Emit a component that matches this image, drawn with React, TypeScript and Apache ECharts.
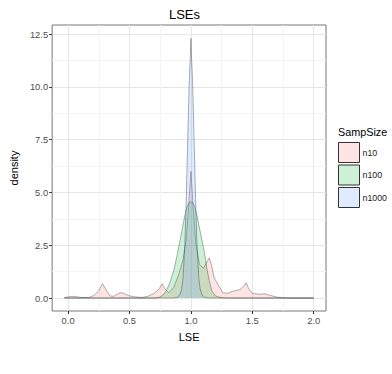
import React, { useEffect, useRef } from 'react';
import * as echarts from 'echarts';

const chartTitle = 'LSEs';
const xName = 'LSE';
const yName = 'density';
const legendTitle = 'SampSize';

const xTicks = [0, 0.5, 1, 1.5, 2];
const xMinor = [0.25, 0.75, 1.25, 1.75];
const yTicks = [0, 2.5, 5, 7.5, 10, 12.5];
const yMinor = [1.25, 3.75, 6.25, 8.75, 11.25];

const groups = ['n10', 'n100', 'n1000'];

const densN10: number[][] = [
  [-0.03, 0.02], [0.0, 0.05], [0.04, 0.08], [0.08, 0.05], [0.12, 0.02], [0.17, 0.03],
  [0.21, 0.12], [0.25, 0.35], [0.28, 0.68], [0.31, 0.38], [0.34, 0.1], [0.37, 0.08],
  [0.4, 0.18], [0.43, 0.26], [0.46, 0.2], [0.5, 0.1], [0.55, 0.05], [0.6, 0.03],
  [0.65, 0.08], [0.7, 0.22], [0.74, 0.42], [0.765, 0.68], [0.79, 0.42], [0.82, 0.25],
  [0.86, 0.5], [0.9, 1.1], [0.935, 1.8], [0.96, 2.7], [0.98, 4.2], [1.0, 6.0],
  [1.02, 4.2], [1.04, 2.6], [1.07, 1.6], [1.1, 1.4], [1.13, 1.7], [1.15, 1.9],
  [1.17, 1.5], [1.19, 0.95], [1.225, 0.6], [1.26, 0.25], [1.3, 0.22], [1.34, 0.32],
  [1.4, 0.4], [1.43, 0.55], [1.45, 0.72], [1.47, 0.45], [1.5, 0.22], [1.55, 0.18],
  [1.6, 0.2], [1.65, 0.12], [1.7, 0.04], [1.75, 0.01], [1.8, 0], [2.0, 0],
];

const densN100: number[][] = [
  [-0.03, 0], [0.7, 0], [0.74, 0.03], [0.77, 0.12], [0.8, 0.35], [0.83, 0.75],
  [0.86, 1.3], [0.89, 2.1], [0.92, 3.0], [0.95, 3.9], [0.97, 4.35], [0.99, 4.55],
  [1.01, 4.55], [1.03, 4.35], [1.05, 3.9], [1.07, 3.3], [1.09, 2.75], [1.11, 2.15],
  [1.13, 1.4], [1.15, 0.8], [1.17, 0.35], [1.2, 0.1], [1.24, 0.02], [1.3, 0], [2.0, 0],
];

const densN1000: number[][] = [
  [-0.03, 0], [0.86, 0], [0.89, 0.04], [0.91, 0.15], [0.925, 0.45], [0.935, 0.9],
  [0.94, 1.4], [0.95, 2.5], [0.955, 3.3], [0.96, 4.3], [0.965, 5.4], [0.97, 6.6],
  [0.975, 7.7], [0.98, 8.9], [0.985, 10.0], [0.99, 10.8], [0.995, 11.4], [1.0, 12.3],
  [1.005, 11.4], [1.01, 10.8], [1.015, 10.0], [1.02, 8.9], [1.025, 7.7], [1.03, 6.6],
  [1.035, 5.4], [1.04, 4.3], [1.045, 3.3], [1.05, 2.5], [1.06, 1.4], [1.065, 0.9],
  [1.075, 0.45], [1.09, 0.15], [1.11, 0.04], [1.14, 0], [2.0, 0],
];

const seriesData = [densN10, densN100, densN1000];
const fills = ['rgba(248,118,109,0.2)', 'rgba(0,186,56,0.2)', 'rgba(97,156,255,0.2)'];

const FONT = '"Liberation Sans", Arial, Helvetica, sans-serif';

export default function App() {
  const ref = useRef<HTMLDivElement>(null);
  useEffect(() => {
    if (!ref.current) return;
    const chart = echarts.init(ref.current, undefined, { renderer: 'svg' });
    const xMin = -0.13, xMax = 2.1, yMin = -0.615, yMax = 12.93;
    const fmt = (v: number) => v.toFixed(1);
    const option: any = {
      animation: false,
      backgroundColor: '#ffffff',
      grid: { left: 43, top: 25, width: 283, height: 286, show: true, borderColor: '#777777', borderWidth: 1, backgroundColor: '#ffffff' },
      xAxis: [
        {
          type: 'value', min: xMin, max: xMax, gridIndex: 0,
          name: xName, nameLocation: 'middle', nameGap: 20,
          nameTextStyle: { fontSize: 11, color: '#000', fontFamily: FONT },
          axisLine: { show: false, onZero: false },
          axisTick: { show: true, length: 3, customValues: xTicks, lineStyle: { color: '#333' } },
          axisLabel: { customValues: xTicks, formatter: fmt, fontSize: 9.4, color: '#4d4d4d', fontFamily: FONT, margin: 5 },
          splitLine: { show: true, lineStyle: { color: '#e6e6e6', width: 1 } },
        },
        {
          type: 'value', min: xMin, max: xMax, gridIndex: 0, position: 'bottom',
          axisLine: { show: false, onZero: false },
          axisTick: { show: false, customValues: xMinor },
          axisLabel: { show: false, customValues: xMinor },
          splitLine: { show: true, lineStyle: { color: '#f4f4f4', width: 1 } },
        },
      ],
      yAxis: [
        {
          type: 'value', min: yMin, max: yMax, gridIndex: 0,
          name: yName, nameLocation: 'middle', nameGap: 32, nameRotate: 90,
          nameTextStyle: { fontSize: 11, color: '#000', fontFamily: FONT },
          axisLine: { show: false, onZero: false },
          axisTick: { show: true, length: 3, customValues: yTicks, lineStyle: { color: '#333' } },
          axisLabel: { customValues: yTicks, formatter: fmt, fontSize: 9.4, color: '#4d4d4d', fontFamily: FONT, margin: 4 },
          splitLine: { show: true, lineStyle: { color: '#e6e6e6', width: 1 } },
        },
        {
          type: 'value', min: yMin, max: yMax, gridIndex: 0, position: 'left',
          axisLine: { show: false, onZero: false },
          axisTick: { show: false, customValues: yMinor },
          axisLabel: { show: false, customValues: yMinor },
          splitLine: { show: true, lineStyle: { color: '#f4f4f4', width: 1 } },
        },
      ],
      legend: {
        orient: 'vertical', left: 338, top: 142, padding: 0, itemWidth: 21, itemHeight: 20, itemGap: 1.5,
        icon: 'rect', selectedMode: false,
        textStyle: { fontSize: 8.8, color: '#1a1a1a', fontFamily: FONT, padding: [0, 0, 0, -2] },
        data: groups.map((g, i) => ({ name: g, icon: 'rect', itemStyle: { color: fills[i], borderColor: '#333', borderWidth: 1 } })),
      },
      graphic: [
        { type: 'text', x: 184.5, y: 14, style: { text: chartTitle, fontSize: 13, fill: '#000', fontFamily: FONT, textAlign: 'center', textVerticalAlign: 'middle' } },
        { type: 'text', x: 338, y: 132, style: { text: legendTitle, fontSize: 10.8, fill: '#000', fontFamily: FONT, textAlign: 'left', textVerticalAlign: 'middle' } },
      ],
      series: groups.map((g, i) => ({
        name: g,
        type: 'line',
        xAxisIndex: 0,
        yAxisIndex: 0,
        data: seriesData[i],
        showSymbol: false,
        symbol: 'none',
        smooth: false,
        color: fills[i],
        lineStyle: { color: 'rgba(0,0,0,0.3)', width: 1 },
        areaStyle: { color: fills[i], opacity: 1, origin: 'auto' },
        z: 3 + i,
      })),
    };
    chart.setOption(option);
    return () => chart.dispose();
  }, []);
  return <div ref={ref} style={{ position: 'fixed', left: 0, top: 0, width: 392, height: 374 }} />;
}
